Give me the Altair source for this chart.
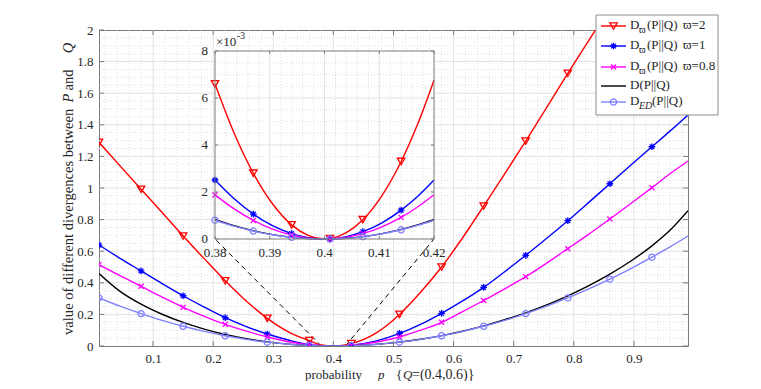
import altair as alt
import pandas as pd

# ---------------- data ----------------
P_MAIN = [0.01, 0.045, 0.08, 0.115, 0.15, 0.185, 0.22, 0.255, 0.29, 0.325, 0.36, 0.38, 0.40,
          0.42, 0.43, 0.47, 0.51, 0.545, 0.58, 0.615, 0.65, 0.685, 0.72, 0.755, 0.79, 0.825,
          0.86, 0.895, 0.93, 0.96, 0.99]
D_W2 = [1.289, 1.140, 0.992, 0.845, 0.696, 0.553, 0.413, 0.285, 0.175, 0.090, 0.034, 0.0065, 0.0,
        0.0067, 0.015, 0.080, 0.200, 0.340, 0.500, 0.685, 0.886, 1.090, 1.297, 1.510, 1.726, 1.935,
        2.14, 2.35, 2.56, 2.74, 2.92]
D_W1 = [0.639, 0.555, 0.475, 0.395, 0.318, 0.246, 0.179, 0.123, 0.076, 0.038, 0.009, 0.0025, 0.0,
        0.0025, 0.0056, 0.031, 0.080, 0.137, 0.207, 0.285, 0.371, 0.470, 0.574, 0.682, 0.793, 0.909,
        1.027, 1.145, 1.261, 1.360, 1.462]
D_W08 = [0.515, 0.445, 0.378, 0.310, 0.245, 0.188, 0.137, 0.094, 0.058, 0.027, 0.0076, 0.0019, 0.0,
         0.0019, 0.0043, 0.024, 0.057, 0.100, 0.150, 0.218, 0.288, 0.362, 0.439, 0.525, 0.616, 0.708,
         0.804, 0.902, 1.002, 1.090, 1.171]
D_KL = [0.459, 0.346, 0.265, 0.201, 0.149, 0.107, 0.0731, 0.0464, 0.0262, 0.0120, 0.0034, 0.0008, 0.0,
        0.0008, 0.0019, 0.0101, 0.0247, 0.0427, 0.0657, 0.0937, 0.127, 0.166, 0.210, 0.260, 0.317,
        0.382, 0.455, 0.538, 0.634, 0.732, 0.856]
D_ED = [0.304, 0.252, 0.205, 0.162, 0.125, 0.0925, 0.0648, 0.0421, 0.0242, 0.0113, 0.0032, 0.0008, 0.0,
        0.0008, 0.0018, 0.0098, 0.0242, 0.0421, 0.0648, 0.0925, 0.125, 0.162, 0.205, 0.252, 0.304,
        0.361, 0.423, 0.490, 0.562, 0.627, 0.696]
MARK_MAIN = [0.01, 0.08, 0.15, 0.22, 0.29, 0.36, 0.43, 0.51, 0.58, 0.65, 0.72, 0.79, 0.86, 0.93]

P_IN = [0.380, 0.3835, 0.387, 0.3905, 0.394, 0.397, 0.400, 0.401, 0.404, 0.407, 0.4105, 0.414, 0.417, 0.420]
IN_W2 = [0.00660, 0.00450, 0.00280, 0.00150, 0.00060, 0.00015, 0.0, 0.000017, 0.00027, 0.00082,
         0.00185, 0.00330, 0.00488, 0.00676]
IN_W1 = [0.00251, 0.00171, 0.00106, 0.00057, 0.00023, 0.000057, 0.0, 0.0000063, 0.00010, 0.00031,
         0.00069, 0.00123, 0.00181, 0.00251]
IN_W08 = [0.00188, 0.00128, 0.00079, 0.00042, 0.00017, 0.000042, 0.0, 0.0000047, 0.000075, 0.00023,
          0.00052, 0.00092, 0.00136, 0.00188]
IN_KL = [0.000838, 0.000570, 0.000353, 0.000188, 0.000075, 0.0000188, 0.0, 0.0000021, 0.0000333,
         0.000102, 0.000229, 0.000407, 0.000599, 0.000829]
IN_ED = [0.0008, 0.000545, 0.000338, 0.000181, 0.000072, 0.000018, 0.0, 0.000002, 0.000032, 0.000098,
         0.000221, 0.000392, 0.000578, 0.0008]
MARK_IN = [0.380, 0.387, 0.394, 0.401, 0.407, 0.414]

X_TICKS = [0.1, 0.2, 0.3, 0.4, 0.5, 0.6, 0.7, 0.8, 0.9]
Y_TICKS = [0, 0.2, 0.4, 0.6, 0.8, 1, 1.2, 1.4, 1.6, 1.8, 2]
IN_X_TICKS = [0.38, 0.39, 0.40, 0.41, 0.42]
IN_X_LABELS = ["0.38", "0.39", "0.4", "0.41", "0.42"]
IN_Y_TICKS = [0, 0.002, 0.004, 0.006, 0.008]
IN_Y_LABELS = ["0", "2", "4", "6", "8"]

# ---------------- layout / style ----------------
W, H = 589, 316
FONT = "Liberation Serif, Times New Roman, Times, DejaVu Serif, serif"
FRAME = "#7a7a7a"
TXT = "#262626"
GRID_MAJ = "#e2e2e2"
GRID_MIN = "#d6d6d6"
IX0, IX1, IY0, IY1 = 116, 335, 21, 209   # inset box (pixels in plot area)
ASTER = "M-1,0L1,0M0,-1L0,1M-0.7,-0.7L0.7,0.7M-0.7,0.7L0.7,-0.7"
XMARK = "M-0.8,-0.8L0.8,0.8M-0.8,0.8L0.8,-0.8"

SERIES = [
    ("w2", D_W2, IN_W2, "#ff0000", "triangle-down", 55),
    ("w1", D_W1, IN_W1, "#0000ff", ASTER, 45),
    ("w08", D_W08, IN_W08, "#ff00ff", XMARK, 40),
    ("kl", D_KL, IN_KL, "#000000", None, 0),
    ("ed", D_ED, IN_ED, "#8080ff", "circle", 38),
]

ONE = pd.DataFrame({"k": [0]})

sx = alt.Scale(domain=[0.01, 0.99], nice=False, zero=False)
sy = alt.Scale(domain=[0, 2], nice=False, zero=False)
ix = alt.Scale(domain=[0.38, 0.42], range=[IX0, IX1], nice=False, zero=False)
iy = alt.Scale(domain=[0, 0.008], range=[IY1, IY0], nice=False, zero=False)

ax_x = alt.Axis(values=X_TICKS, format="~g", title=None, domain=False, ticks=False, grid=False,
                labelFont=FONT, labelFontSize=13, labelColor=TXT, labelPadding=6,
                labelFlush=False, labelOverlap=False)
ax_y = alt.Axis(values=Y_TICKS, format="~g", title=None, domain=False, ticks=False, grid=False,
                labelFont=FONT, labelFontSize=13, labelColor=TXT, labelPadding=6,
                labelFlush=False, labelOverlap=False)


def MX(f):
    return alt.X(f, type="quantitative", scale=sx, axis=ax_x)


def MY(f):
    return alt.Y(f, type="quantitative", scale=sy, axis=ax_y)


def IXe(f):
    return alt.X(f, type="quantitative", scale=ix, axis=None)


def IYe(f):
    return alt.Y(f, type="quantitative", scale=iy, axis=None)


def steps(a, b, s):
    n = int(round((b - a) / s))
    return [round(a + i * s, 6) for i in range(n + 1)]


# ---------------- main panel ----------------
main_layers = []
gxm = pd.DataFrame({"g": [v for v in steps(0.02, 0.98, 0.02) if round(v * 10, 6) % 1 != 0]})
gym = pd.DataFrame({"g": [v for v in steps(0.05, 1.95, 0.05) if round(v * 5, 6) % 1 != 0]})
main_layers.append(alt.Chart(gxm).mark_rule(stroke=GRID_MIN, strokeDash=[1, 2], strokeWidth=0.8).encode(x=MX("g")))
main_layers.append(alt.Chart(gym).mark_rule(stroke=GRID_MIN, strokeDash=[1, 2], strokeWidth=0.8).encode(y=MY("g")))
main_layers.append(alt.Chart(pd.DataFrame({"g": X_TICKS})).mark_rule(stroke=GRID_MAJ, strokeWidth=1).encode(x=MX("g")))
main_layers.append(alt.Chart(pd.DataFrame({"g": Y_TICKS[1:-1]})).mark_rule(stroke=GRID_MAJ, strokeWidth=1).encode(y=MY("g")))

# connectors from the inset's lower corners to the zoomed region
cx_l = 0.01 + IX0 / W * 0.98
cx_r = 0.01 + IX1 / W * 0.98
cy = 2 * (H - IY1) / H
conn = pd.DataFrame({"x": [0.38, 0.42], "y": [0.0, 0.0], "x2": [cx_l, cx_r], "y2": [cy, cy]})
main_layers.append(alt.Chart(conn).mark_rule(color="#000000", strokeDash=[5, 4], strokeWidth=1).encode(
    x=MX("x"), y=MY("y"), x2="x2:Q", y2="y2:Q"))

for name, vals, _, col, shape, size in SERIES:
    df = pd.DataFrame({"p": P_MAIN, "v": vals})
    main_layers.append(alt.Chart(df).mark_line(color=col, strokeWidth=1.4, clip=True,
                                               interpolate="monotone").encode(x=MX("p"), y=MY("v")))
for name, vals, _, col, shape, size in SERIES:
    if shape is None:
        continue
    df = pd.DataFrame({"p": P_MAIN, "v": vals})
    df = df[df["p"].isin(MARK_MAIN)]
    main_layers.append(alt.Chart(df).mark_point(shape=shape, size=size, color=col, filled=False,
                                                strokeWidth=1.3, clip=True, opacity=1).encode(x=MX("p"), y=MY("v")))

xt = pd.DataFrame({"t": X_TICKS})
yt = pd.DataFrame({"t": Y_TICKS})
main_layers.append(alt.Chart(xt).mark_rule(color=FRAME).encode(x=MX("t"), y=alt.value(H), y2=alt.value(H - 5)))
main_layers.append(alt.Chart(xt).mark_rule(color=FRAME).encode(x=MX("t"), y=alt.value(0), y2=alt.value(5)))
main_layers.append(alt.Chart(yt).mark_rule(color=FRAME).encode(y=MY("t"), x=alt.value(0), x2=alt.value(5)))
main_layers.append(alt.Chart(yt).mark_rule(color=FRAME).encode(y=MY("t"), x=alt.value(W), x2=alt.value(W - 5)))

main = alt.layer(*main_layers)

# ---------------- inset ----------------
in_layers = []
in_layers.append(alt.Chart(ONE).mark_rect(fill="white").encode(
    x=alt.value(IX0), x2=alt.value(IX1), y=alt.value(IY0), y2=alt.value(IY1)))
gxi = pd.DataFrame({"g": [v for v in steps(0.382, 0.418, 0.002) if v not in IN_X_TICKS]})
gyi = pd.DataFrame({"g": [v for v in steps(0.0005, 0.0075, 0.0005) if v not in IN_Y_TICKS]})
in_layers.append(alt.Chart(gxi).mark_rule(stroke=GRID_MIN, strokeDash=[1, 2], strokeWidth=0.8).encode(
    x=IXe("g"), y=alt.value(IY0), y2=alt.value(IY1)))
in_layers.append(alt.Chart(gyi).mark_rule(stroke=GRID_MIN, strokeDash=[1, 2], strokeWidth=0.8).encode(
    y=IYe("g"), x=alt.value(IX0), x2=alt.value(IX1)))
in_layers.append(alt.Chart(pd.DataFrame({"g": IN_X_TICKS[1:-1]})).mark_rule(stroke=GRID_MAJ).encode(
    x=IXe("g"), y=alt.value(IY0), y2=alt.value(IY1)))
in_layers.append(alt.Chart(pd.DataFrame({"g": IN_Y_TICKS[1:-1]})).mark_rule(stroke=GRID_MAJ).encode(
    y=IYe("g"), x=alt.value(IX0), x2=alt.value(IX1)))

for name, _, vals, col, shape, size in SERIES:
    df = pd.DataFrame({"p": P_IN, "v": vals})
    in_layers.append(alt.Chart(df).mark_line(color=col, strokeWidth=1.4,
                                             interpolate="monotone").encode(x=IXe("p"), y=IYe("v")))
for name, _, vals, col, shape, size in SERIES:
    if shape is None:
        continue
    df = pd.DataFrame({"p": P_IN, "v": vals})
    df = df[df["p"].isin(MARK_IN)]
    in_layers.append(alt.Chart(df).mark_point(shape=shape, size=size, color=col, filled=False,
                                              strokeWidth=1.3, opacity=1).encode(x=IXe("p"), y=IYe("v")))

in_layers.append(alt.Chart(ONE).mark_rect(fillOpacity=0, stroke=FRAME, strokeWidth=1).encode(
    x=alt.value(IX0), x2=alt.value(IX1), y=alt.value(IY0), y2=alt.value(IY1)))
ixt = pd.DataFrame({"t": IN_X_TICKS, "lab": IN_X_LABELS})
iyt = pd.DataFrame({"t": IN_Y_TICKS, "lab": IN_Y_LABELS})
in_layers.append(alt.Chart(ixt).mark_rule(color=FRAME).encode(x=IXe("t"), y=alt.value(IY1), y2=alt.value(IY1 - 3)))
in_layers.append(alt.Chart(ixt).mark_rule(color=FRAME).encode(x=IXe("t"), y=alt.value(IY0), y2=alt.value(IY0 + 3)))
in_layers.append(alt.Chart(iyt).mark_rule(color=FRAME).encode(y=IYe("t"), x=alt.value(IX0), x2=alt.value(IX0 + 3)))
in_layers.append(alt.Chart(iyt).mark_rule(color=FRAME).encode(y=IYe("t"), x=alt.value(IX1), x2=alt.value(IX1 - 3)))
in_layers.append(alt.Chart(ixt).mark_text(font=FONT, fontSize=13, color=TXT, align="center", baseline="middle").encode(
    x=IXe("t"), y=alt.value(IY1 + 14), text="lab:N"))
in_layers.append(alt.Chart(iyt).mark_text(font=FONT, fontSize=13, color=TXT, align="right", baseline="middle").encode(
    y=IYe("t"), x=alt.value(IX0 - 7), text="lab:N"))
in_layers.append(alt.Chart(ONE).mark_text(text="\u00d710", font=FONT, fontSize=13, color=TXT, align="left",
                                          baseline="alphabetic").encode(x=alt.value(IX0 + 1), y=alt.value(IY0 - 5)))
in_layers.append(alt.Chart(ONE).mark_text(text="-3", font=FONT, fontSize=9.5, color=TXT, align="left",
                                          baseline="alphabetic").encode(x=alt.value(IX0 + 22), y=alt.value(IY0 - 12)))
inset = alt.layer(*in_layers)

# ---------------- legend & titles ----------------
ov = []


def txt(s, x, y, size=13, italic=False, align="left", baseline="middle", angle=0):
    kw = dict(text=s, font=FONT, fontSize=size, color=TXT, align=align, baseline=baseline)
    if italic:
        kw["fontStyle"] = "italic"
    if angle:
        kw["angle"] = angle
    return alt.Chart(ONE).mark_text(**kw).encode(x=alt.value(x), y=alt.value(y))


ov.append(alt.Chart(ONE).mark_rect(fill="white", stroke="#8c8c8c", strokeWidth=1).encode(
    x=alt.value(497), x2=alt.value(619), y=alt.value(-15), y2=alt.value(85)))
ROW_Y = [-4, 16, 37, 56, 72]
LEG_TAIL = ["\u03d6=2", "\u03d6=1", "\u03d6=0.8", None, None]
for i, (name, _, _, col, shape, size) in enumerate(SERIES):
    y = ROW_Y[i]
    ov.append(alt.Chart(ONE).mark_rule(color=col, strokeWidth=1.4).encode(
        x=alt.value(502), x2=alt.value(527), y=alt.value(y)))
    if shape is not None:
        ov.append(alt.Chart(ONE).mark_point(shape=shape, size=size, color=col, filled=False,
                                            strokeWidth=1.3, opacity=1).encode(x=alt.value(514.5), y=alt.value(y)))
    if name in ("w2", "w1", "w08"):
        ov.append(txt("D", 531, y - 1))
        ov.append(txt("\u03d6", 540, y + 4, size=10))
        ov.append(txt("(P||Q)", 548, y - 1))
        ov.append(txt(LEG_TAIL[i], 584, y - 1))
    elif name == "kl":
        ov.append(txt("D(P||Q)", 531, y - 1))
    else:
        ov.append(txt("D", 531, y - 1))
        ov.append(txt("ED", 540, y + 4, size=10, italic=True))
        ov.append(txt("(P||Q)", 553, y - 1))

# x title
XB = 349
ov.append(txt("probability", 206, XB, baseline="alphabetic"))
ov.append(txt("p", 279, XB, italic=True, baseline="alphabetic"))
ov.append(txt("{", 297, XB, baseline="alphabetic"))
ov.append(txt("Q", 304, XB, italic=True, baseline="alphabetic"))
ov.append(txt("=(0.4,0.6)}", 313, XB, size=14, baseline="alphabetic"))
# y title
YX = -30
ov.append(txt("value of different divergences between", YX, 305, size=14.6, angle=270))
ov.append(txt("P", YX, 68, size=14.6, italic=True, align="center", angle=270))
ov.append(txt("and", YX, 50, size=14.6, align="center", angle=270))
ov.append(txt("Q", YX, 18, size=14.6, italic=True, align="center", angle=270))
overlay = alt.layer(*ov)

chart = alt.layer(main, inset, overlay).resolve_scale(x="independent", y="independent").properties(
    width=W, height=H,
    autosize=alt.AutoSizeParams(type="none"),
    padding={"left": 91, "top": 22, "right": 65, "bottom": 35},
).configure_view(stroke=FRAME, strokeWidth=1)

chart.save("out.html", embed_options={"renderer": "svg", "actions": False})
